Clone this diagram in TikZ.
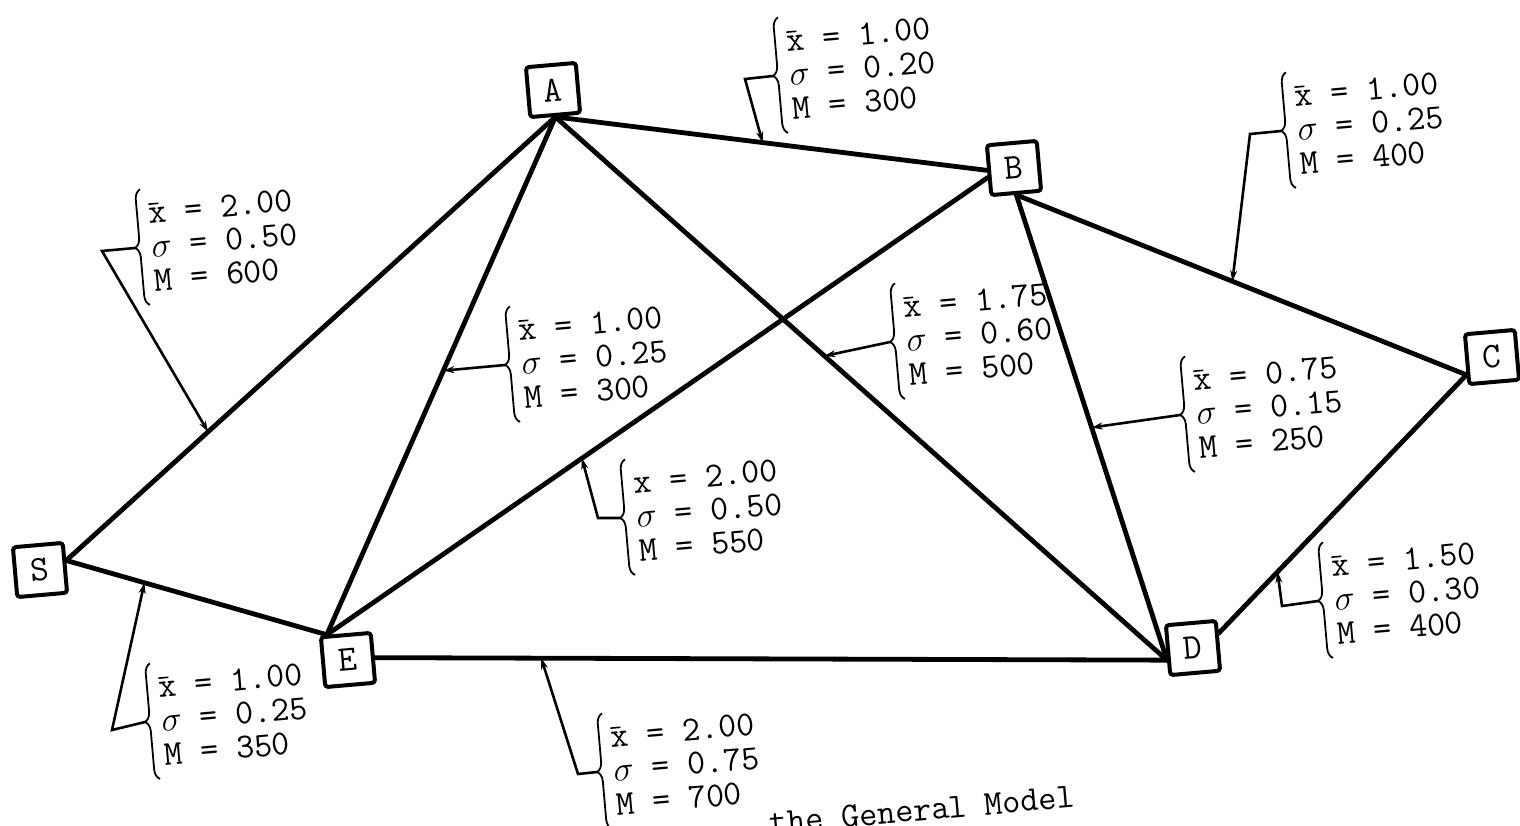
\documentclass[tikz,border=0pt]{standalone}
\usetikzlibrary{arrows.meta,decorations.pathreplacing}
\newcommand\lblfont{\ttfamily\fontsize{17.5pt}{17pt}\selectfont}
\newcommand\boxfont{\ttfamily\fontsize{18pt}{18pt}\selectfont}
% x with a short bar above it (sample mean)
\newcommand\xmean{\makebox[0pt][l]{\hspace{0.4pt}\rule[9.2pt]{5pt}{0.8pt}}x}
\newcommand\sig{$\sigma$}

\tikzset{
  edge/.style={line width=2.4pt, line cap=round},
  station/.style={draw, line width=2pt, rounded corners=1.5pt, minimum size=25pt,
                  inner sep=0pt, rotate=5, font=\boxfont, fill=white},
  leader/.style={line width=1.3pt, -{Stealth[length=5.5pt,width=3.5pt]}},
  bracepen/.style={line width=0.9pt, decorate, decoration={brace, amplitude=5pt}},
  lbltext/.style={anchor=west, inner sep=0pt, align=left, font=\lblfont, transform shape},
  captext/.style={inner sep=0pt, font=\lblfont, transform shape},
}

% brace label: #1 name, #2 brace tip, #3 mean line, #4 sigma, #5 M
\newcommand\costlabel[5]{%
  \begin{scope}[shift={#2}, rotate=5]
    \coordinate (#1tip) at (0,0);
    \draw[bracepen] (10,58) -- (10,-58);
    \node[lbltext] (#1) at (16,0) {#3\\\sig\ = #4\\M = #5};
  \end{scope}}

\begin{document}
\begin{tikzpicture}[x=0.5pt, y=-0.5pt]
  \fill[white] (0,0) rectangle (1520,825);
  \useasboundingbox (0,0) rectangle (1520,825);

  % stations
  \node[station] (A) at (553,90)  {A};
  \node[station] (B) at (1014,168) {B};
  \node[station] (C) at (1492,357) {C};
  \node[station] (D) at (1193,648) {D};
  \node[station] (E) at (348,660) {E};
  \node[station] (S) at (40,570)  {S};

  % links, each with a point where its label leader lands
  \draw[edge] (A.south) -- coordinate[pos=0.48] (eAB) (B.west);
  \draw[edge] (B.south) -- coordinate[pos=0.48] (eBC) (C.210);
  \draw[edge] (S.15) -- coordinate[pos=0.29] (eSA) (A.south);
  \draw[edge] (A.south) -- coordinate[pos=0.49] (eAE) (E.125);
  \draw[edge] (A.south) -- coordinate[pos=0.44] (eAD) (D.200);
  \draw[edge] (E.125) -- coordinate[pos=0.386] (eBE) (B.195);
  \draw[edge] (B.south) -- coordinate[pos=0.5] (eBD) (D.200);
  \draw[edge] (D.25) -- coordinate[pos=0.237] (eCD) (C.210);
  \draw[edge] (S.15) -- coordinate[pos=0.3] (eSE) (E.125);
  \draw[edge] (E.east) -- coordinate[pos=0.21] (eED) (D.200);

  % link parameters
  \costlabel{lAB}{(773,76)}{\xmean\ = 1.00}{0.20}{300}
  \costlabel{lBC}{(1281,131)}{\xmean\ = 1.00}{0.25}{400}
  \costlabel{lSA}{(135,248)}{\xmean\ = 2.00}{0.50}{600}
  \costlabel{lAE}{(505,365)}{\xmean\ = 1.00}{0.25}{300}
  \costlabel{lAD}{(890,342)}{\xmean\ = 1.75}{0.60}{500}
  \costlabel{lBE}{(620,518)}{x = 2.00}{0.50}{550}
  \costlabel{lBD}{(1180,415)}{\xmean\ = 0.75}{0.15}{250}
  \costlabel{lCD}{(1318,601)}{\xmean\ = 1.50}{0.30}{400}
  \costlabel{lSE}{(145,722)}{\xmean\ = 1.00}{0.25}{350}
  \costlabel{lED}{(597,772)}{\xmean\ = 2.00}{0.75}{700}

  % leader bends
  \coordinate (kAB) at (745,79);
  \coordinate (kBC) at (1250,134);
  \coordinate (kSA) at (102,251);
  \coordinate (kBE) at (598,518);
  \coordinate (kCD) at (1282,606);
  \coordinate (kSE) at (112,730);
  \coordinate (kED) at (578,774);

  % leaders
  \draw[leader] (lABtip) -- (kAB) -- (eAB);
  \draw[leader] (lBCtip) -- (kBC) -- (eBC);
  \draw[leader] (lSAtip) -- (kSA) -- (eSA);
  \draw[leader] (lAEtip) -- (eAE);
  \draw[leader] (lADtip) -- (eAD);
  \draw[leader] (lBEtip) -- (kBE) -- (eBE);
  \draw[leader] (lBDtip) -- (eBD);
  \draw[leader] (lCDtip) -- (kCD) -- (eCD);
  \draw[leader] (lSEtip) -- (kSE) -- (eSE);
  \draw[leader] (lEDtip) -- (kED) -- (eED);

  % caption line, cut by the lower edge
  \node[captext, rotate=5, anchor=base west] (cap) at (770,834) {the General Model};
\end{tikzpicture}
\end{document}
